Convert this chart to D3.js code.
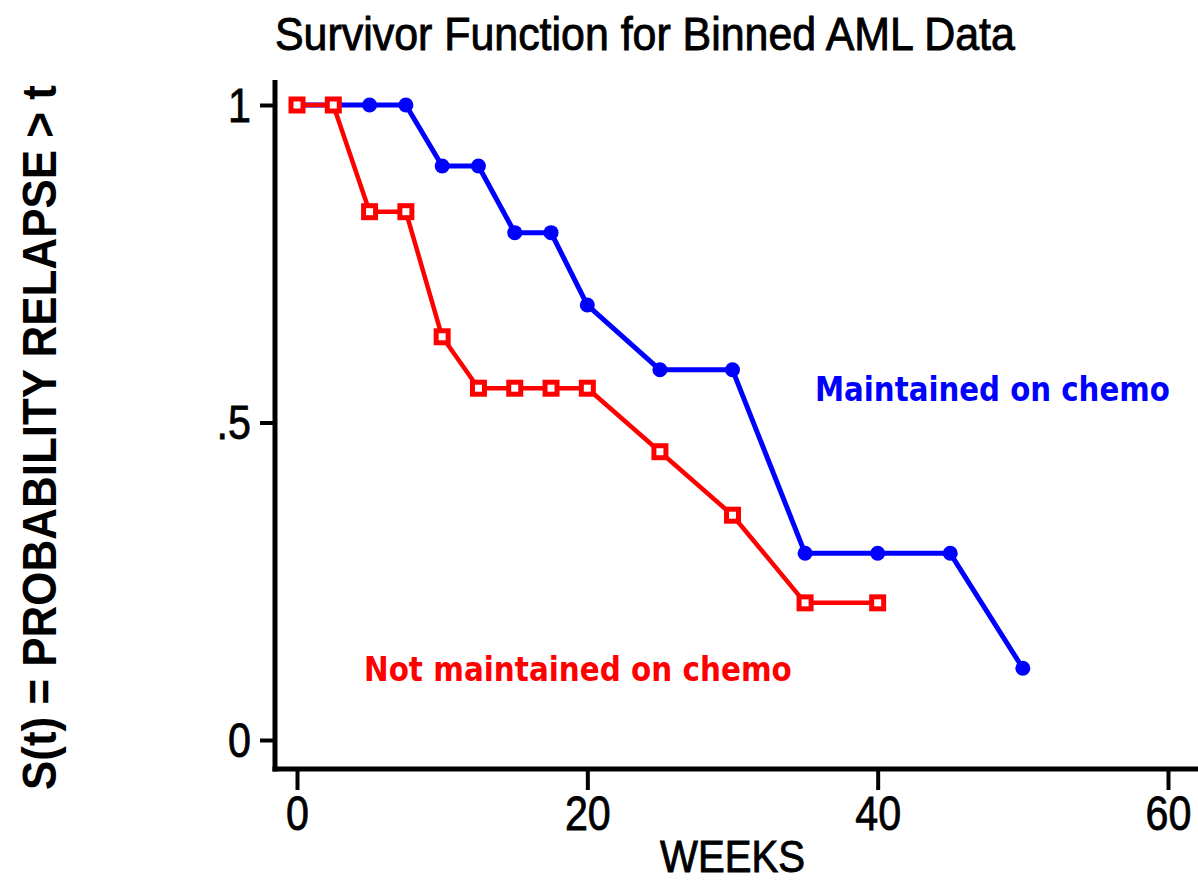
<!DOCTYPE html>
<html>
<head>
<meta charset="utf-8">
<script src="https://cdn.jsdelivr.net/npm/d3@7"></script>
<style>
  html, body { margin: 0; padding: 0; background: #fff; }
  svg { display: block; }
</style>
</head>
<body>
<svg id="chart" width="1198" height="882"></svg>
<script>
// ---- data ----
const weeks = [0, 2.5, 5, 7.5, 10, 12.5, 15, 17.5, 20, 25, 30, 35, 40, 45, 50];
const maintained = [1, 1, 1, 1, 0.904, 0.904, 0.799, 0.799, 0.685, 0.583, 0.583, 0.294, 0.294, 0.294, 0.113];
const notMaintainedWeeks = [0, 2.5, 5, 7.5, 10, 12.5, 15, 17.5, 20, 25, 30, 35, 40];
const notMaintained = [1, 1, 0.832, 0.832, 0.635, 0.554, 0.554, 0.554, 0.554, 0.454, 0.354, 0.216, 0.216];
const xTicks = [0, 20, 40, 60];
const xTickLabels = ["0", "20", "40", "60"];
const yTicks = [0, 0.5, 1];
const yTickLabels = ["0", ".5", "1"];
const titleText = "Survivor Function for Binned AML Data";
const xLabel = "WEEKS";
const yLabel = "S(t) =  PROBABILITY RELAPSE > t";
const seriesNames = ["Maintained on chemo", "Not maintained on chemo"];

// ---- layout ----
const svg = d3.select("#chart");
const x = d3.scaleLinear().domain([0, 60]).range([297, 1168]);
const y = d3.scaleLinear().domain([0, 1]).range([740, 105]);
const axisX = 275;   // y-axis position
const axisY = 769;   // x-axis position
const font = "'Liberation Sans', Arial, sans-serif";
const boldFont = "'DejaVu Sans', Verdana, sans-serif";

// place a text horizontally compressed to a given width (anchor start/middle at x)
function fitText(sel, px, py, width, anchor, rotate) {
  const natural = sel.node().getComputedTextLength();
  const sx = width / natural;
  sel.attr("x", 0).attr("y", 0).attr("text-anchor", anchor || "start")
    .attr("transform", `translate(${px},${py})${rotate ? ` rotate(${rotate})` : ""} scale(${sx},1)`);
}

// title
const t = svg.append("text")
  .attr("font-family", font).attr("font-size", 46)
  .attr("fill", "#000").attr("stroke", "#000").attr("stroke-width", 0.9)
  .text(titleText);
fitText(t, 275, 50, 740);

// y label
const yl = svg.append("text")
  .attr("font-family", font).attr("font-size", 49).attr("font-weight", "bold")
  .attr("fill", "#000")
  .text(yLabel);
fitText(yl, 56, 790, 705, "start", -90);

// x label
const xl = svg.append("text")
  .attr("font-family", font).attr("font-size", 44)
  .attr("fill", "#000").attr("stroke", "#000").attr("stroke-width", 0.9)
  .text(xLabel);
fitText(xl, (x.range()[0] + x.range()[1]) / 2, 872, 145, "middle");

// axes
const yAxis = d3.axisLeft(y).tickValues(yTicks)
  .tickFormat((d, i) => yTickLabels[i]).tickSize(15).tickPadding(13);
const gy = svg.append("g").attr("transform", `translate(${axisX},0)`).call(yAxis);
gy.select(".domain").remove();
gy.selectAll(".tick line").attr("stroke", "#000").attr("stroke-width", 4);
gy.selectAll(".tick text")
  .attr("font-family", font).attr("font-size", 48).attr("fill", "#000")
  .attr("stroke", "#000").attr("stroke-width", 0.8)
  .attr("dy", "0.34em")
  .attr("transform", "scale(0.86,1)");

const xAxis = d3.axisBottom(x).tickValues(xTicks)
  .tickFormat((d, i) => xTickLabels[i]).tickSize(21).tickPadding(6);
const gx = svg.append("g").attr("transform", `translate(0,${axisY})`).call(xAxis);
gx.select(".domain").remove();
gx.selectAll(".tick line").attr("stroke", "#000").attr("stroke-width", 4);
gx.selectAll(".tick text")
  .attr("font-family", font).attr("font-size", 48).attr("fill", "#000")
  .attr("stroke", "#000").attr("stroke-width", 0.8)
  .attr("transform", "scale(0.86,1)");

// axis lines
svg.append("line").attr("x1", axisX).attr("x2", axisX).attr("y1", 80).attr("y2", axisY + 2.5)
  .attr("stroke", "#000").attr("stroke-width", 5);
svg.append("line").attr("x1", axisX - 2.5).attr("x2", 1198).attr("y1", axisY).attr("y2", axisY)
  .attr("stroke", "#000").attr("stroke-width", 5);

// lines
const line = d3.line().x(d => x(d[0])).y(d => y(d[1]));
const blueData = weeks.map((w, i) => [w, maintained[i]]);
const redData = notMaintainedWeeks.map((w, i) => [w, notMaintained[i]]);

svg.append("path").datum(blueData).attr("d", line)
  .attr("fill", "none").attr("stroke", "#0000ff").attr("stroke-width", 5)
  .attr("stroke-linejoin", "round");
svg.selectAll("circle.m").data(blueData).enter().append("circle")
  .attr("class", "m")
  .attr("cx", d => x(d[0])).attr("cy", d => y(d[1])).attr("r", 7.5)
  .attr("fill", "#0000ff");

svg.append("path").datum(redData).attr("d", line)
  .attr("fill", "none").attr("stroke", "#ff0000").attr("stroke-width", 4.5)
  .attr("stroke-linejoin", "round");
const sq = 12;
svg.selectAll("rect.n").data(redData).enter().append("rect")
  .attr("class", "n")
  .attr("x", d => x(d[0]) - sq / 2).attr("y", d => y(d[1]) - sq / 2)
  .attr("width", sq).attr("height", sq)
  .attr("fill", "#fff").attr("stroke", "#ff0000").attr("stroke-width", 5);

// series labels
const l1 = svg.append("text")
  .attr("font-family", boldFont).attr("font-size", 34).attr("font-weight", "bold")
  .attr("fill", "#0000ff")
  .text(seriesNames[0]);
fitText(l1, 815, 401, 355);
const l2 = svg.append("text")
  .attr("font-family", boldFont).attr("font-size", 34).attr("font-weight", "bold")
  .attr("fill", "#ff0000")
  .text(seriesNames[1]);
fitText(l2, 364, 681, 428);
</script>
</body>
</html>
